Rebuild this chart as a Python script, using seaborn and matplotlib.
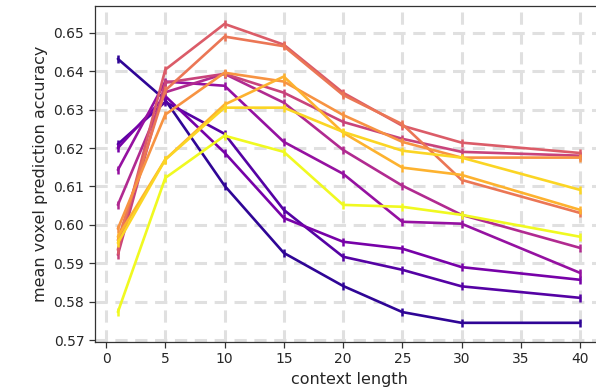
import numpy as np
import pandas as pd
import matplotlib

matplotlib.use("Agg")
import matplotlib.pyplot as plt
import seaborn as sns

# context lengths on the x axis
context_length = [1, 5, 10, 15, 20, 25, 30, 40]

# mean voxel prediction accuracy per run, darkest (plasma low) to yellow
run_00 = [0.6432, 0.6325, 0.6102, 0.5927, 0.5841, 0.5773, 0.5745, 0.5745]
run_01 = [0.6210, 0.6320, 0.6237, 0.6039, 0.5917, 0.5883, 0.5840, 0.5810]
run_02 = [0.6200, 0.6335, 0.6188, 0.6018, 0.5956, 0.5938, 0.5890, 0.5857]
run_03 = [0.6143, 0.6373, 0.6362, 0.6216, 0.6133, 0.6008, 0.6003, 0.5875]
run_04 = [0.6052, 0.6345, 0.6393, 0.6318, 0.6195, 0.6102, 0.6026, 0.5940]
run_05 = [0.5922, 0.6370, 0.6393, 0.6344, 0.6268, 0.6224, 0.6190, 0.6180]
run_06 = [0.5935, 0.6404, 0.6523, 0.6469, 0.6344, 0.6258, 0.6214, 0.6187]
run_07 = [0.5960, 0.6350, 0.6490, 0.6465, 0.6338, 0.6262, 0.6117, 0.6031]
run_08 = [0.5990, 0.6287, 0.6396, 0.6373, 0.6286, 0.6216, 0.6175, 0.6175]
run_09 = [0.5969, 0.6170, 0.6313, 0.6386, 0.6240, 0.6149, 0.6130, 0.6039]
run_10 = [0.5953, 0.6170, 0.6305, 0.6305, 0.6242, 0.6193, 0.6175, 0.6091]
run_11 = [0.5773, 0.6122, 0.6232, 0.6190, 0.6052, 0.6047, 0.6026, 0.5969]

runs = [run_00, run_01, run_02, run_03, run_04, run_05,
        run_06, run_07, run_08, run_09, run_10, run_11]

frames = []
for i, vals in enumerate(runs):
    frames.append(pd.DataFrame({"context": context_length,
                                "acc": vals, "run": i}))
df = pd.concat(frames, ignore_index=True)

sns.set_theme(style="ticks")
plt.rcParams["font.family"] = ["DejaVu Sans"]

fig = plt.figure(figsize=(5.96, 3.90), dpi=100)
ax = fig.add_axes([0.159, 0.123, 0.853, 0.862])

# full plasma range, ending on the bright yellow
cmap = matplotlib.colormaps["plasma"]
palette = [matplotlib.colors.to_hex(cmap(v))
           for v in np.linspace(0.06, 1.0, len(runs))]
sns.lineplot(data=df, x="context", y="acc", hue="run", palette=palette,
             marker="|", markersize=6, linewidth=1.9, legend=False, ax=ax)
for line in ax.lines:
    line.set_markeredgecolor(line.get_color())
    line.set_markeredgewidth(1.8)

ax.set_xlim(-0.95, 41.95)
ax.set_ylim(0.5695, 0.657)
ax.set_xticks([0, 5, 10, 15, 20, 25, 30, 35, 40])
ax.set_yticks(np.round(np.arange(0.57, 0.6501, 0.01), 2))
ax.yaxis.set_major_formatter(matplotlib.ticker.FormatStrFormatter("%.2f"))
ax.grid(True, linestyle=(0, (4, 2.5)), linewidth=2.2, color="#e0e0e0")
ax.set_axisbelow(True)
ax.tick_params(labelsize=10, length=4, width=0.9, color="#333333")
for s in ax.spines.values():
    s.set_color("#333333")
    s.set_linewidth(0.9)
ax.set_xlabel("context length", fontsize=11.5)
ax.set_ylabel("mean voxel prediction accuracy", fontsize=11.5)

fig.savefig("out.png", dpi=100)
